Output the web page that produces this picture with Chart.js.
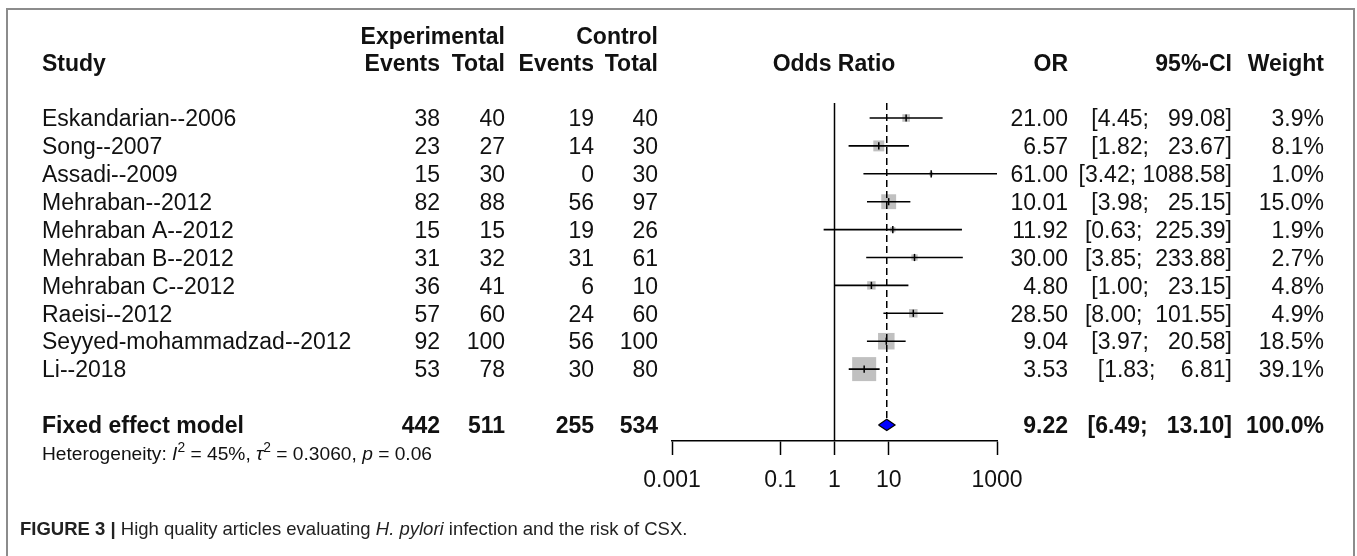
<!DOCTYPE html>
<html>
<head>
<meta charset="utf-8">
<script src="https://cdn.jsdelivr.net/npm/chart.js@4/dist/chart.umd.min.js"></script>
<style>
html,body{margin:0;padding:0;background:#fff;}
canvas{display:block;}
</style>
</head>
<body>
<canvas id="c" width="1357" height="556"></canvas>
<script>
// ---------------- data ----------------
const studies = ["Eskandarian--2006","Song--2007","Assadi--2009","Mehraban--2012","Mehraban A--2012","Mehraban B--2012","Mehraban C--2012","Raeisi--2012","Seyyed-mohammadzad--2012","Li--2018"];
const expEvents  = [38,23,15,82,15,31,36,57,92,53];
const expTotal   = [40,27,30,88,15,32,41,60,100,78];
const ctrlEvents = [19,14,0,56,19,31,6,24,56,30];
const ctrlTotal  = [40,30,30,97,26,61,10,60,100,80];
const orValues   = [21.00,6.57,61.00,10.01,11.92,30.00,4.80,28.50,9.04,3.53];
const ciLower    = [4.45,1.82,3.42,3.98,0.63,3.85,1.00,8.00,3.97,1.83];
const ciUpper    = [99.08,23.67,1088.58,25.15,225.39,233.88,23.15,101.55,20.58,6.81];
const weights    = [3.9,8.1,1.0,15.0,1.9,2.7,4.8,4.9,18.5,39.1];
const pooledLabel  = "Fixed effect model";
const pooledCounts = [442,511,255,534];
const pooledOR     = 9.22;
const pooledCI     = [6.49,13.10];
const pooledWeight = 100.0;
const xTicks      = [0.001,0.1,1,10,1000];
const xTickLabels = ["0.001","0.1","1","10","1000"];
const headerTop   = ["Experimental","Control"];
const headerCols  = ["Study","Events","Total","Events","Total","Odds Ratio","OR","95%-CI","Weight"];

// ---------------- layout ----------------
const W = 1357, H = 556;
const ROW0 = 118, ROWH = 27.9, AREA_TOP = 90, AXIS_Y = 441;
const AX_LEFT = 672, AX_RIGHT = 997;
const yMin = (AREA_TOP - ROW0) / ROWH;
const yMax = (AXIS_Y - ROW0) / ROWH;
const REF_TOP = (103 - ROW0) / ROWH;
const POOLED_ROW = studies.length + 1;
const HET_ROW = studies.length + 2;
const DIAMOND_H = 0.2;
const FONT = "'Liberation Sans', Arial, Helvetica, sans-serif";
const FS = 23, FS_HET = 19.2, FS_CAP = 18.5;
const COL = {study:42, expEvents:440, expTotal:505, ctrlEvents:594, ctrlTotal:658, odds:834, or:1068, ci:1232, weight:1324};
const HEAD1_Y = 36, HEAD2_Y = 63;

const boxSide = w => 3.84 * Math.sqrt(w);
const rows = studies.map((_, i) => i);

const allUpper = ciUpper.concat([pooledCI[1]]).map(v => v.toFixed(2));
const allLower = ciLower.concat([pooledCI[0]]).map(v => v.toFixed(2));
const upLen = Math.max(...allUpper.map(s => s.length));
const loLen = Math.max(...allLower.map(s => s.length));
const ciStr = (lo, up) => "[" + lo.toFixed(2).padStart(loLen, " ") + "; " + up.toFixed(2).padStart(upLen, " ") + "]";

// ---------------- text plugin ----------------
function txt(ctx, s, x, yc, align, font, size) {
  ctx.font = font;
  ctx.textAlign = align;
  ctx.textBaseline = "alphabetic";
  ctx.fillText(s, x, yc + 0.358 * size);
}
function runs(ctx, parts, x, yc) {
  let cx = x;
  ctx.textAlign = "left";
  ctx.textBaseline = "alphabetic";
  for (const p of parts) {
    ctx.font = p.font;
    ctx.fillText(p.t, cx, yc + 0.358 * p.base + (p.dy || 0));
    cx += ctx.measureText(p.t).width;
  }
}

const forestText = {
  id: "forestText",
  afterDraw(chart) {
    const ctx = chart.ctx;
    const ys = chart.scales.y;
    const rowY = r => ys.getPixelForValue(r);
    const reg = FS + "px " + FONT, bold = "bold " + FS + "px " + FONT;
    ctx.save();
    // frame
    ctx.strokeStyle = "#8c8c8c";
    ctx.lineWidth = 2;
    ctx.beginPath();
    ctx.moveTo(7, H + 5); ctx.lineTo(7, 9); ctx.lineTo(1354, 9); ctx.lineTo(1354, H + 5);
    ctx.stroke();

    ctx.fillStyle = "#111";
    // headers
    txt(ctx, headerTop[0], COL.expTotal, HEAD1_Y, "right", bold, FS);
    txt(ctx, headerTop[1], COL.ctrlTotal, HEAD1_Y, "right", bold, FS);
    txt(ctx, headerCols[0], COL.study, HEAD2_Y, "left", bold, FS);
    txt(ctx, headerCols[1], COL.expEvents, HEAD2_Y, "right", bold, FS);
    txt(ctx, headerCols[2], COL.expTotal, HEAD2_Y, "right", bold, FS);
    txt(ctx, headerCols[3], COL.ctrlEvents, HEAD2_Y, "right", bold, FS);
    txt(ctx, headerCols[4], COL.ctrlTotal, HEAD2_Y, "right", bold, FS);
    txt(ctx, headerCols[5], COL.odds, HEAD2_Y, "center", bold, FS);
    txt(ctx, headerCols[6], COL.or, HEAD2_Y, "right", bold, FS);
    txt(ctx, headerCols[7], COL.ci, HEAD2_Y, "right", bold, FS);
    txt(ctx, headerCols[8], COL.weight, HEAD2_Y, "right", bold, FS);

    // study rows
    rows.forEach(i => {
      const y = rowY(i);
      txt(ctx, studies[i], COL.study, y, "left", reg, FS);
      txt(ctx, String(expEvents[i]), COL.expEvents, y, "right", reg, FS);
      txt(ctx, String(expTotal[i]), COL.expTotal, y, "right", reg, FS);
      txt(ctx, String(ctrlEvents[i]), COL.ctrlEvents, y, "right", reg, FS);
      txt(ctx, String(ctrlTotal[i]), COL.ctrlTotal, y, "right", reg, FS);
      txt(ctx, orValues[i].toFixed(2), COL.or, y, "right", reg, FS);
      txt(ctx, ciStr(ciLower[i], ciUpper[i]), COL.ci, y, "right", reg, FS);
      txt(ctx, weights[i].toFixed(1) + "%", COL.weight, y, "right", reg, FS);
    });

    // pooled row
    const py = rowY(POOLED_ROW);
    txt(ctx, pooledLabel, COL.study, py, "left", bold, FS);
    txt(ctx, String(pooledCounts[0]), COL.expEvents, py, "right", bold, FS);
    txt(ctx, String(pooledCounts[1]), COL.expTotal, py, "right", bold, FS);
    txt(ctx, String(pooledCounts[2]), COL.ctrlEvents, py, "right", bold, FS);
    txt(ctx, String(pooledCounts[3]), COL.ctrlTotal, py, "right", bold, FS);
    txt(ctx, pooledOR.toFixed(2), COL.or, py, "right", bold, FS);
    txt(ctx, ciStr(pooledCI[0], pooledCI[1]), COL.ci, py, "right", bold, FS);
    txt(ctx, pooledWeight.toFixed(1) + "%", COL.weight, py, "right", bold, FS);

    // heterogeneity
    const hy = rowY(HET_ROW);
    const hr = FS_HET + "px " + FONT, hi = "italic " + FS_HET + "px " + FONT;
    const hs = (FS_HET * 0.72) + "px " + FONT;
    runs(ctx, [
      {t:"Heterogeneity: ", font:hr, base:FS_HET},
      {t:"I", font:hi, base:FS_HET},
      {t:"2", font:hs, base:FS_HET, dy:-FS_HET * 0.42},
      {t:" = 45%, ", font:hr, base:FS_HET},
      {t:"\u03c4", font:hi, base:FS_HET},
      {t:"2", font:hs, base:FS_HET, dy:-FS_HET * 0.42},
      {t:" = 0.3060, ", font:hr, base:FS_HET},
      {t:"p", font:hi, base:FS_HET},
      {t:" = 0.06", font:hr, base:FS_HET}
    ], COL.study, hy);

    // caption
    ctx.fillStyle = "#222";
    runs(ctx, [
      {t:"FIGURE 3 | ", font:"bold " + FS_CAP + "px " + FONT, base:FS_CAP},
      {t:"High quality articles evaluating ", font:FS_CAP + "px " + FONT, base:FS_CAP},
      {t:"H. pylori", font:"italic " + FS_CAP + "px " + FONT, base:FS_CAP},
      {t:" infection and the risk of CSX.", font:FS_CAP + "px " + FONT, base:FS_CAP}
    ], 20, 528);
    ctx.restore();
  }
};

// ---------------- chart ----------------
const ciData = rows.flatMap(i => [{x:ciLower[i], y:i}, {x:ciUpper[i], y:i}, {x:ciUpper[i], y:null}]);
const ptData = rows.map(i => ({x:orValues[i], y:i}));
const diamondData = [
  {x:pooledCI[0], y:POOLED_ROW},
  {x:pooledOR, y:POOLED_ROW - DIAMOND_H},
  {x:pooledCI[1], y:POOLED_ROW},
  {x:pooledOR, y:POOLED_ROW + DIAMOND_H},
  {x:pooledCI[0], y:POOLED_ROW}
];

new Chart(document.getElementById("c"), {
  type: "scatter",
  data: {
    datasets: [
      {label:"no effect", data:[{x:1, y:REF_TOP}, {x:1, y:yMax}], showLine:true, borderColor:"#000", borderWidth:1.5, pointRadius:0, order:3},
      {label:"pooled line", data:[{x:pooledOR, y:REF_TOP}, {x:pooledOR, y:POOLED_ROW - DIAMOND_H}], showLine:true, borderColor:"#000", borderWidth:1.5, borderDash:[7,4], pointRadius:0, order:3},
      {label:"weight boxes", data:ptData, showLine:false, pointStyle:"rect",
        pointRadius: c => boxSide(weights[c.dataIndex]) / Math.SQRT2,
        pointHoverRadius: c => boxSide(weights[c.dataIndex]) / Math.SQRT2,
        backgroundColor:"#c0c0c0", borderWidth:0, order:6},
      {label:"CI", data:ciData, showLine:true, spanGaps:false, borderColor:"#000", borderWidth:1.6, pointRadius:0, order:2},
      {label:"estimate", data:ptData, showLine:false, pointStyle:"line", rotation:90, pointRadius:3.6, borderColor:"#000", borderWidth:1.5, order:1},
      {label:"pooled", data:diamondData, showLine:true, fill:"shape", backgroundColor:"#0000ff", borderColor:"#000", borderWidth:1.2, pointRadius:0, order:1}
    ]
  },
  options: {
    responsive:false, animation:false, devicePixelRatio:1, events:[],
    layout:{padding:{left:AX_LEFT, right:W - AX_RIGHT, top:AREA_TOP, bottom:0}},
    plugins:{legend:{display:false}, tooltip:{enabled:false}},
    scales:{
      x:{
        type:"logarithmic", min:xTicks[0], max:xTicks[xTicks.length - 1],
        afterBuildTicks: s => { s.ticks = xTicks.map(v => ({value:v})); },
        afterFit: s => { s.height = H - AXIS_Y; },
        grid:{display:true, drawOnChartArea:false, drawTicks:true, tickLength:14, tickWidth:1.5, tickColor:"#000"},
        border:{display:true, color:"#000", width:1.5},
        ticks:{autoSkip:false, maxRotation:0, minRotation:0, padding:12, color:"#111", font:{family:FONT, size:FS},
          callback:(v, i) => xTickLabels[i]}
      },
      y:{type:"linear", reverse:true, min:yMin, max:yMax, display:false}
    }
  },
  plugins:[forestText]
});
</script>
</body>
</html>
